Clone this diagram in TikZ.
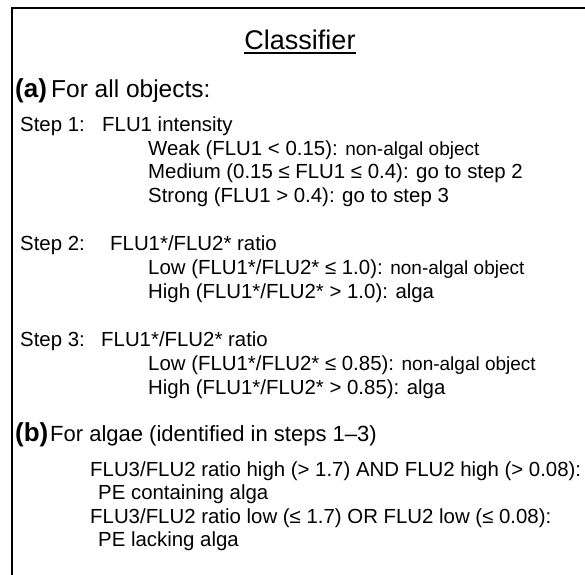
\documentclass[tikz,border=0pt]{standalone}
\usepackage{fontspec}
\setmainfont{Liberation Sans}
\newcommand{\sm}[1]{{\fontsize{19}{23}\selectfont #1}}
\begin{document}
\begin{tikzpicture}[x=1pt,y=-1pt,
  txt/.style={anchor=base west, inner sep=0pt, font=\fontsize{20.4}{24}\selectfont},
  heada/.style={anchor=base west, inner sep=0pt, font=\fontsize{24.5}{29}\selectfont},
  headb/.style={anchor=base west, inner sep=0pt, font=\fontsize{22}{26}\selectfont},
  lab/.style={anchor=base west, inner sep=0pt, font=\bfseries\fontsize{26}{30}\selectfont},
  ttl/.style={anchor=base, inner sep=0pt, font=\fontsize{27}{31}\selectfont},
  frame/.style={line width=2.2pt, line cap=rect},
  uline/.style={line width=1.6pt}]
\useasboundingbox (0,0) rectangle (585,574);
\draw[frame] (12,576) -- (12,8) -- (590,8);
\node[ttl] (title) at (300,49) {Classifier};
\draw[uline] ([yshift=-4pt]title.base west) -- ([yshift=-4pt]title.base east);
\node[lab] (a) at (15,97) {(a)};
\node[heada] (aa) at (51,97) {For all objects:};
\node[txt] (s1) at (20,131) {Step 1:};
\node[txt] (s1t) at (102,131) {FLU1 intensity};
\node[txt] (w) at (148,155) {Weak (FLU1 < 0.15): \sm{non-algal object}};
\node[txt] (m) at (148,178) {Medium (0.15 ≤ FLU1 ≤ 0.4): go to step 2};
\node[txt] (st) at (148,202) {Strong (FLU1 > 0.4): go to step 3};
\node[txt] (s2) at (20,250) {Step 2:};
\node[txt] (s2t) at (110,250) {FLU1*/FLU2* ratio};
\node[txt] (l2) at (148,274) {Low (FLU1*/FLU2* ≤ 1.0): \sm{non-algal object}};
\node[txt] (h2) at (148,298) {High (FLU1*/FLU2* > 1.0): alga};
\node[txt] (s3) at (20,346) {Step 3:};
\node[txt] (s3t) at (101,346) {FLU1*/FLU2* ratio};
\node[txt] (l3) at (148,370) {Low (FLU1*/FLU2* ≤ 0.85): \sm{non-algal object}};
\node[txt] (h3) at (148,394) {High (FLU1*/FLU2* > 0.85): alga};
\node[lab] (b) at (15,441) {(b)};
\node[headb] (bb) at (50,441) {For algae (identified in steps 1--3)};
\node[txt] (p1) at (90,476) {FLU3/FLU2 ratio high (> 1.7) AND FLU2 high (> 0.08):};
\node[txt] (p1b) at (98,499) {PE containing alga};
\node[txt] (p2) at (90,523) {FLU3/FLU2 ratio low (≤ 1.7) OR FLU2 low (≤ 0.08):};
\node[txt] (p2b) at (98,546) {PE lacking alga};
\end{tikzpicture}
\end{document}
